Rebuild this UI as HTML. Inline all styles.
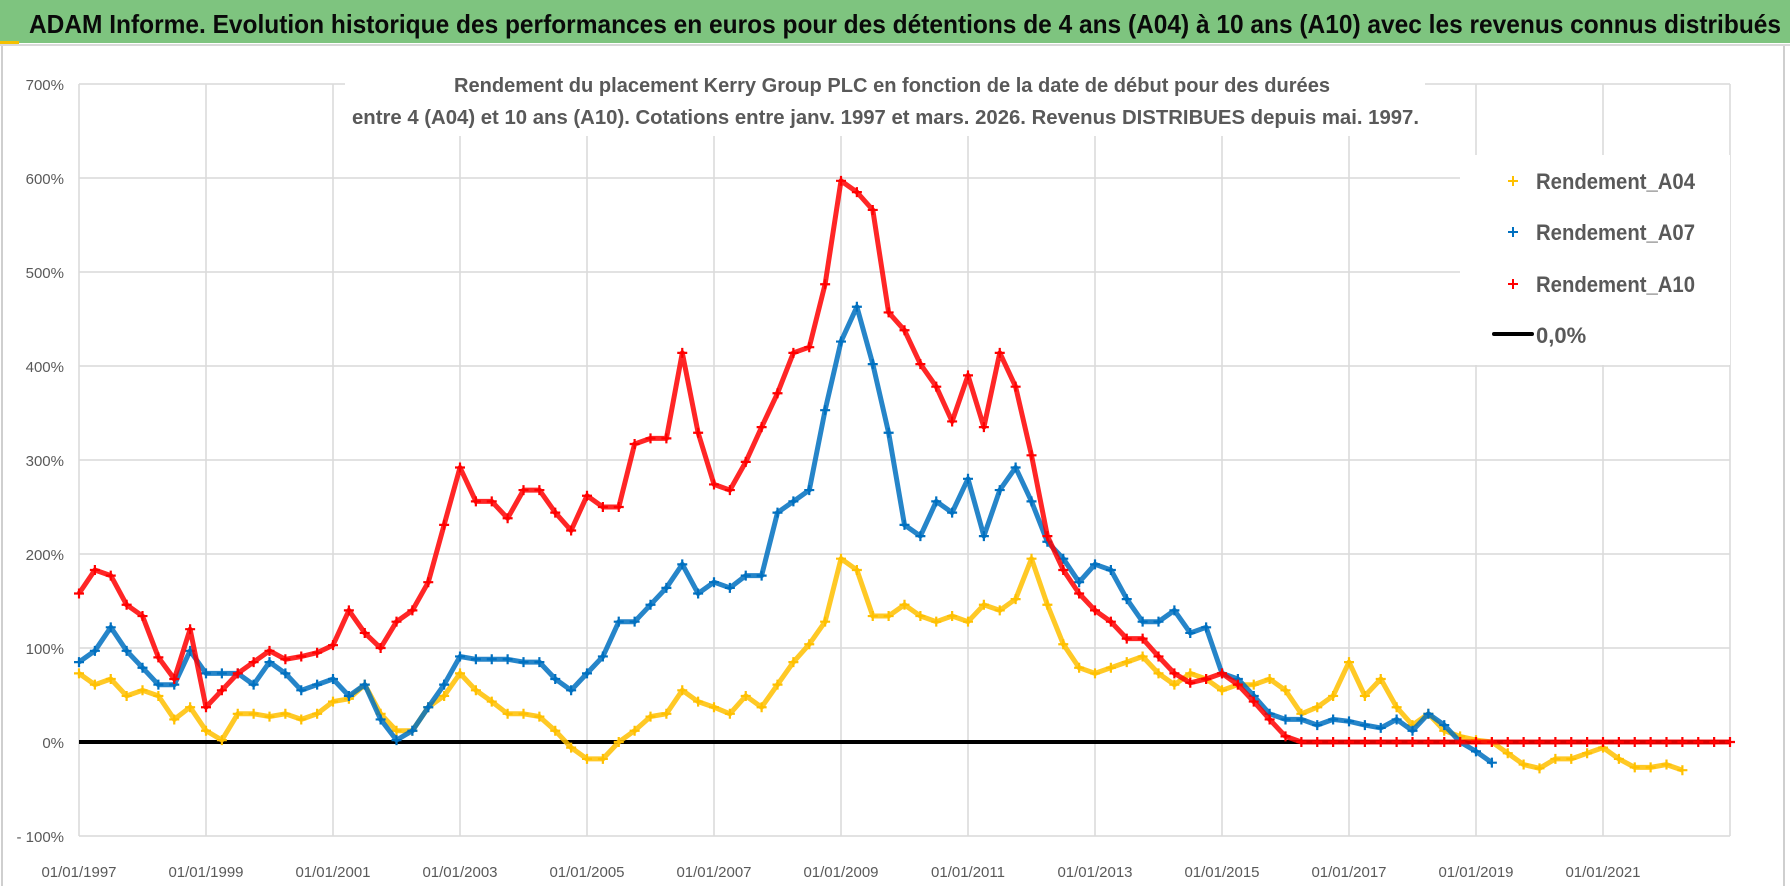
<!DOCTYPE html>
<html><head><meta charset="utf-8"><style>
html,body{margin:0;padding:0;background:#fff;}
svg{display:block;font-family:"Liberation Sans Narrow","Liberation Sans",sans-serif;}
</style></head><body>
<svg id="chart" width="1790" height="886" viewBox="0 0 1790 886" xmlns="http://www.w3.org/2000/svg">
<rect x="0" y="0" width="1790" height="886" fill="#fff"/>
<rect x="0" y="0" width="1790" height="43" fill="#7ec47f"/>
<rect x="0" y="41" width="19" height="3" fill="#f5c000"/>
<line x1="0" y1="45" x2="1790" y2="45" stroke="#d9d9d9" stroke-width="2"/>
<line x1="2" y1="46" x2="2" y2="886" stroke="#bfbfbf" stroke-width="1.5"/>
<line x1="1784" y1="46" x2="1784" y2="886" stroke="#bfbfbf" stroke-width="1.5"/>
<text x="29" y="33" font-size="26" font-weight="bold" fill="#0a0a0a" textLength="1752" lengthAdjust="spacingAndGlyphs">ADAM Informe. Evolution historique des performances en euros pour des détentions de 4 ans (A04) à 10 ans (A10) avec les revenus connus distribués</text>
<g id="grid"></g>
<g id="axes"></g>
<rect x="345" y="66" width="1080" height="70" fill="#fff"/>
<text x="454" y="92" font-size="20" font-weight="bold" fill="#595959" textLength="876" lengthAdjust="spacingAndGlyphs">Rendement du placement Kerry Group PLC en fonction de la date de début pour des durées</text>
<text x="352" y="124" font-size="20" font-weight="bold" fill="#595959" textLength="1067" lengthAdjust="spacingAndGlyphs">entre 4 (A04) et 10 ans (A10).  Cotations entre janv. 1997 et mars. 2026.  Revenus DISTRIBUES depuis mai. 1997.</text>
<g id="zero"></g>
<g id="series"></g>
<rect x="1460" y="155" width="270" height="210" fill="#fff"/>
<g>
 <g>
  <path d="M1508 181h10M1513 176v10" stroke="#ffc000" stroke-width="2"/>
  <text x="1536" y="189" font-size="22" font-weight="bold" fill="#595959" textLength="159" lengthAdjust="spacingAndGlyphs">Rendement_A04</text>
 </g>
 <g>
  <path d="M1508 232h10M1513 227v10" stroke="#0070c0" stroke-width="2"/>
  <text x="1536" y="240" font-size="22" font-weight="bold" fill="#595959" textLength="159" lengthAdjust="spacingAndGlyphs">Rendement_A07</text>
 </g>
 <g>
  <path d="M1508 284h10M1513 279v10" stroke="#ff0000" stroke-width="2"/>
  <text x="1536" y="292" font-size="22" font-weight="bold" fill="#595959" textLength="159" lengthAdjust="spacingAndGlyphs">Rendement_A10</text>
 </g>
 <g>
  <line x1="1494" y1="334" x2="1532" y2="334" stroke="#000" stroke-width="4" stroke-linecap="round"/>
  <text x="1536" y="343" font-size="22" font-weight="bold" fill="#595959">0,0%</text>
 </g>
</g>
</svg>
<script>
const yTicks = [-100,0,100,200,300,400,500,600,700];
const yTickLabels = ["- 100%","0%","100%","200%","300%","400%","500%","600%","700%"];
const xTickYears = [1997,1999,2001,2003,2005,2007,2009,2011,2013,2015,2017,2019,2021];
const xTickLabels = ["01/01/1997","01/01/1999","01/01/2001","01/01/2003","01/01/2005","01/01/2007","01/01/2009","01/01/2011","01/01/2013","01/01/2015","01/01/2017","01/01/2019","01/01/2021"];
const a04Start = 1997, a04Step = 0.25;
const a04Values = [73,61,67,49,55,49,24,37,12,2,30,30,27,30,24,30,43,46,61,30,12,12,37,49,73,55,43,30,30,27,12,-6,-18,-18,0,12,27,30,55,43,37,30,49,37,61,85,104,128,195,183,134,134,146,134,128,134,128,146,140,152,195,146,104,79,73,79,85,91,73,61,73,67,55,61,61,67,55,30,37,49,85,49,67,37,18,30,12,6,2,0,-12,-24,-28,-18,-18,-12,-6,-18,-27,-27,-24,-30];
const a07Start = 1997, a07Step = 0.25;
const a07Values = [85,97,122,97,79,61,61,97,73,73,73,61,85,73,55,61,67,49,61,24,2,12,37,61,91,88,88,88,85,85,67,55,73,91,128,128,146,164,189,158,170,164,177,177,244,256,268,353,426,463,402,329,231,219,256,244,280,219,268,292,256,213,195,170,189,183,152,128,128,140,116,122,73,67,49,30,24,24,18,24,22,18,15,24,12,30,18,0,-10,-22];
const a10Start = 1997, a10Step = 0.25;
const a10Values = [158,183,177,146,134,90,67,120,37,55,73,85,97,88,91,95,103,140,116,100,128,140,170,231,292,256,256,238,268,268,244,225,262,250,250,317,323,323,414,329,274,268,298,335,371,414,420,487,597,585,566,457,438,402,378,341,390,335,414,378,305,219,183,158,140,128,110,110,91,73,63,67,73,61,43,24,6,0,0,0,0,0,0,0,0,0,0,0,0,0,0,0,0,0,0,0,0,0,0,0,0,0,0,0,0];

const X0=79, X1=1730, YR0=1997, YR1=2023;
const Y0=742, PX100=94;
function xs(yr){return X0+(yr-YR0)*(X1-X0)/(YR1-YR0);}
function ys(v){return Y0-v*PX100/100;}
const NS="http://www.w3.org/2000/svg";
function mk(tag,attrs,parent){const e=document.createElementNS(NS,tag);for(const k in attrs)e.setAttribute(k,attrs[k]);parent.appendChild(e);return e;}
const grid=document.getElementById('grid'), axes=document.getElementById('axes');
yTicks.forEach((t,i)=>{
  const l=mk('line',{x1:X0,x2:X1,y1:ys(t),y2:ys(t),stroke:'#d9d9d9','stroke-width':1.5},grid);
  
  
  const tx=mk('text',{x:64,y:ys(t)+6,'text-anchor':'end','font-size':15,fill:'#595959'},axes);
  tx.textContent=yTickLabels[i];
  
  
});
const gridYears=xTickYears.concat([2023]);
gridYears.forEach(yr=>{
  const l=mk('line',{x1:xs(yr),x2:xs(yr),y1:ys(700),y2:ys(-100),stroke:'#d9d9d9','stroke-width':1.5},grid);
  
  
});
xTickYears.forEach((yr,i)=>{
  const tx=mk('text',{x:xs(yr),y:877,'text-anchor':'middle','font-size':15,fill:'#595959'},axes);
  tx.textContent=xTickLabels[i];
  
  
});
const zl=mk('line',{x1:X0,x2:X1,y1:ys(0),y2:ys(0),stroke:'#000','stroke-width':4},document.getElementById('zero'));


const ser=document.getElementById('series');
function drawSeries(vals,start,step,color,name){
  const g=mk('g',{},ser);
  
  
  const pts=vals.map((v,i)=>xs(start+i*step).toFixed(1)+','+ys(v).toFixed(1)).join(' ');
  const pl=mk('polyline',{points:pts,fill:'none',stroke:color,'stroke-width':5,'stroke-linejoin':'round','stroke-opacity':0.85},g);
  
  
  vals.forEach((v,i)=>{
    const x=xs(start+i*step), y=ys(v);
    const p=mk('path',{d:`M${x-5} ${y}h10M${x} ${y-5}v10`,stroke:color,'stroke-width':2.2},g);
    
    
  });
}
drawSeries(a04Values,a04Start,a04Step,'#ffc000','series-a04');
drawSeries(a07Values,a07Start,a07Step,'#0070c0','series-a07');
drawSeries(a10Values,a10Start,a10Step,'#ff0000','series-a10');
</script>
</body></html>
